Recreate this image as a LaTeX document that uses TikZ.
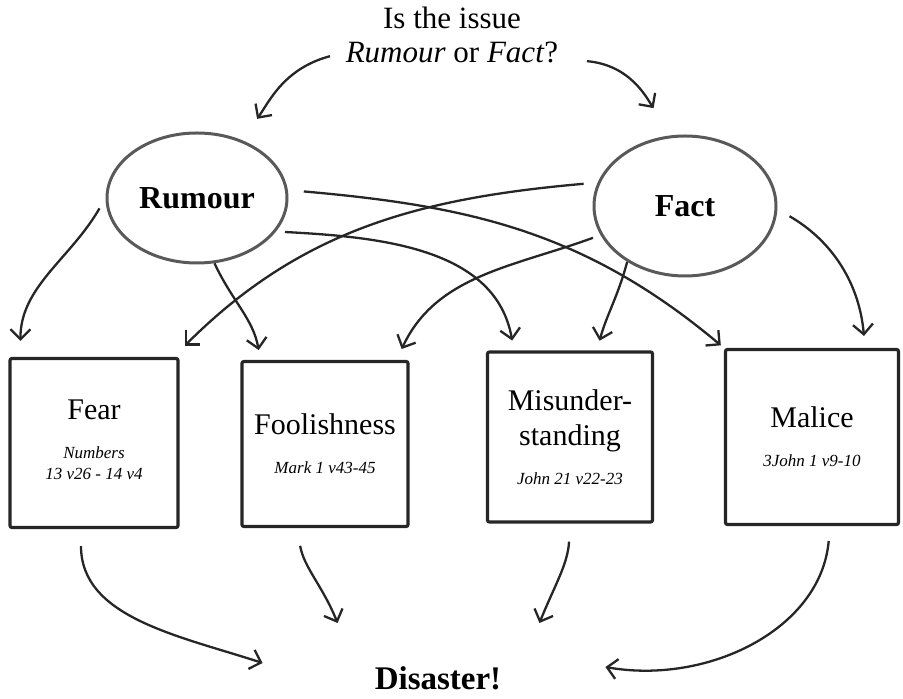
\documentclass[tikz,border=0pt]{standalone}
\usepackage{fontspec}
\setmainfont{Liberation Serif}
\usepackage{tikz}
\usetikzlibrary{shapes.geometric,arrows.meta,positioning}

\newcommand{\scripture}{\fontsize{17}{21}\selectfont\itshape}

\begin{document}
\begin{tikzpicture}[x=1pt, y=1pt,
  issue/.style={ellipse, draw=black!65, line width=3pt, inner sep=0pt, font=\fontsize{32}{36}\selectfont\bfseries},
  block/.style={rectangle, draw=black!85, line width=3.2pt, rounded corners=2pt, align=center, inner sep=0pt, font=\fontsize{30}{35}\selectfont},
  line/.style={draw=black!85, line width=2.3pt, -{Straight Barb[length=10pt,width=20pt]}}]

  \useasboundingbox (0,0) rectangle (903,699);

  \node [align=center, inner sep=0pt, font=\fontsize{31}{34}\selectfont] (question) at (452,664) {Is the issue\\\textit{Rumour} or \textit{Fact}?};

  \node [issue, minimum width=180, minimum height=130] (rumour) at (197,501) {Rumour};
  \node [issue, minimum width=182, minimum height=140] (fact) at (685,493) {Fact};

  \node [block, minimum width=168, minimum height=169] (fear) at (94,256)
    {Fear\\[4pt]\scripture\begin{tabular}[t]{@{}c@{}}Numbers\\13 v26 - 14 v4\end{tabular}};
  \node [block, minimum width=166, minimum height=165] (fool) at (325,255)
    {Foolishness\\[4pt]\scripture Mark 1 v43-45};
  \node [block, minimum width=165, minimum height=170] (misu) at (570,262)
    {Misunder-\\standing\\[4pt]\scripture John 21 v22-23};
  \node [block, minimum width=173, minimum height=175] (mali) at (812,262)
    {Malice\\[4pt]\scripture 3John 1 v9-10};

  \node [inner sep=0pt, font=\fontsize{33}{36}\selectfont\bfseries] (disaster) at (438,21) {Disaster!};

  % question to the two answers
  \draw [line, shorten >=26pt] ([xshift=-122pt,yshift=7pt]question.south) to[out=195, in=55] (rumour.52);
  \draw [line, shorten >=33pt] ([xshift=135pt,yshift=2pt]question.south) to[out=-5, in=125] (fact.100);

  % rumour leads to ...
  \draw [line, shorten <=12pt, shorten >=16pt] (rumour.180) to[out=240, in=90] ([xshift=12pt]fear.north west);
  \draw [line, shorten >=10pt] (rumour.-75) to[out=-65, in=100] ([xshift=20pt]fool.north west);
  \draw [line, shorten <=9pt, shorten >=10pt] (rumour.-23) to[out=-3, in=100] ([xshift=28pt]misu.north west);
  \draw [line, shorten <=16pt, shorten >=4pt] (rumour.5) to[out=-5, in=140] (mali.north west);

  % fact leads to ...
  \draw [line, shorten <=14pt, shorten >=16pt] (fact.165) to[out=185, in=45] ([xshift=-6pt]fear.north east);
  \draw [line, shorten <=8pt, shorten >=12pt] (fact.199) to[out=200, in=65] ([xshift=-13pt]fool.north east);
  \draw [line, shorten >=10pt] (fact.224) to[out=255, in=75] ([xshift=27pt]misu.north);
  \draw [line, shorten <=14pt, shorten >=12pt] (fact.-2) to[out=-30, in=95] ([xshift=53pt]mali.north);

  % all end in disaster
  \draw [line, shorten <=17pt] ([xshift=-13pt]fear.south) to[out=-90, in=162] ([xshift=-112pt,yshift=15pt]disaster.west);
  \draw [line, shorten <=18pt] ([xshift=-28pt]fool.south) to[out=-80, in=112] ([xshift=-37pt,yshift=55pt]disaster.west);
  \draw [line, shorten <=18pt] (misu.south) to[out=-93, in=68] ([xshift=38pt,yshift=55pt]disaster.east);
  \draw [line, shorten <=15pt] ([xshift=18pt]mali.south) to[out=-95, in=-10] ([xshift=104pt,yshift=11pt]disaster.east);
\end{tikzpicture}
\end{document}
